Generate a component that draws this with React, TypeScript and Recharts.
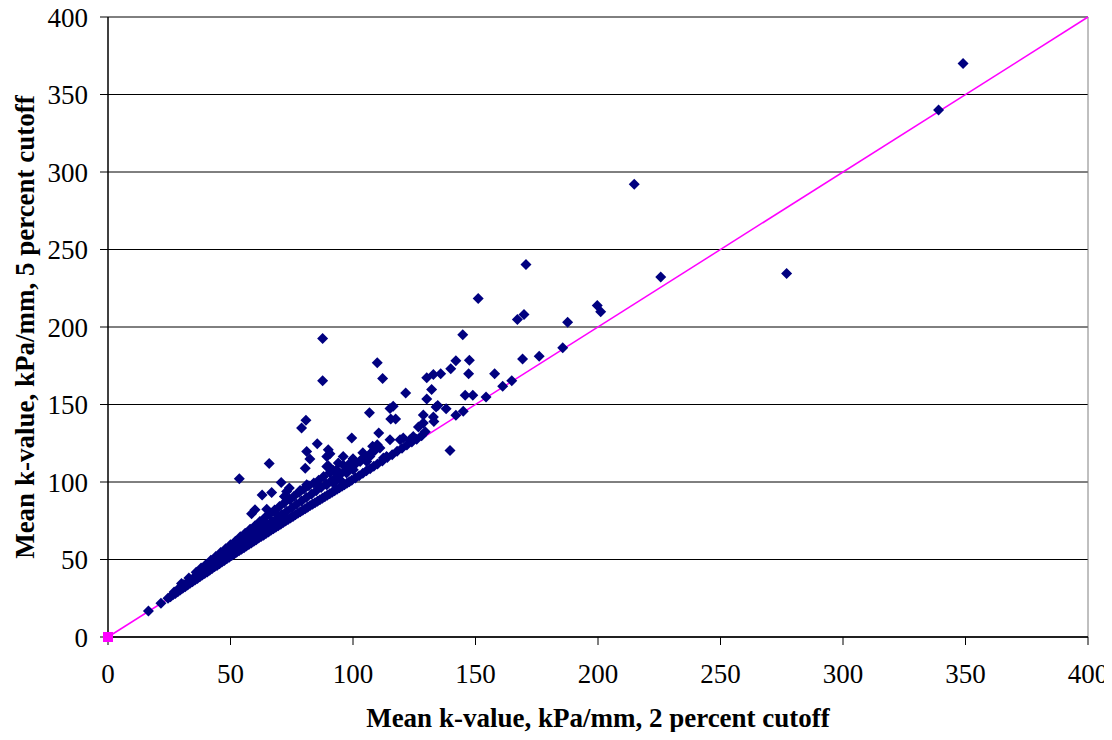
import {
    ScatterChart,
    Scatter,
    XAxis,
    YAxis,
    CartesianGrid,
    ReferenceLine
} from 'recharts';

// axis ticks (kPa/mm)
const xTicks = [0, 50, 100, 150, 200, 250, 300, 350, 400];
const yTicks = [0, 50, 100, 150, 200, 250, 300, 350, 400];

// [2 percent cutoff, 5 percent cutoff] pairs
const nearLine: [number, number][] = [
    [16.5, 16.8], [21.6, 21.8], [24.5, 25], [25.5, 26], [26.5, 27.2], [27.5, 28.1], [28.5, 29.2],
    [29.5, 30.3], [30.5, 31.4], [31.5, 32.4], [32.5, 33.5], [33.5, 34.6], [34.5, 35.6], [35.5, 36.7],
    [36.5, 37.8], [37.5, 38.9], [38.5, 40], [39.5, 41], [40.5, 42], [41.5, 43.1], [42.5, 44.2],
    [43.5, 45.3], [44.5, 46.2], [45.5, 47.3], [46.5, 48.4], [47.5, 49.4], [48.5, 50.5], [49.5, 51.5],
    [50.5, 52.6], [51.5, 53.5], [52.5, 54.6], [53.5, 55.6], [54.5, 56.6], [55.5, 57.6], [56.5, 58.7],
    [57.5, 59.7], [58.5, 60.7], [59.5, 61.7], [60.5, 62.8], [61.5, 63.8], [62.5, 64.8], [63.5, 65.7],
    [64.5, 66.8], [65.5, 67.8], [66.5, 68.8], [67.5, 69.8], [68.5, 70.8], [69.5, 71.8], [70.5, 72.8],
    [71.5, 73.8], [72.5, 74.9], [73.5, 75.8], [74.5, 76.8], [75.5, 77.8], [76.5, 78.8], [77.5, 79.8],
    [78.5, 80.8], [79.5, 81.8], [80.5, 82.8], [81.5, 83.7], [82.5, 84.8], [83.5, 85.7], [84.5, 86.6],
    [85.5, 87.6], [86.5, 88.6], [87.5, 89.5], [88.5, 90.5], [89.5, 91.5], [90.5, 92.4], [91.5, 93.4],
    [92.5, 94.4], [93.5, 95.3], [94.5, 96.3], [95.5, 97.3], [96.5, 98.2], [97.5, 99.2], [98.5, 100.2],
    [99.5, 101.2], [101, 102.6], [102.5, 104.1], [104, 105.6], [105.5, 107.2], [107, 108.6],
    [108.5, 110.2], [110, 111.6], [112, 113.6], [114, 115.8], [116, 117.6], [118, 119.8],
    [120, 121.7], [122, 123.8], [124, 125.8], [126, 127.6], [128, 129.9]
];

const bandMiddle: [number, number][] = [
    [27, 29], [29, 31.5], [31, 33.8], [33, 36], [35, 38.2], [37, 40.5], [39, 42.8], [41, 45],
    [43, 47.3], [45, 49.6], [47, 51.8], [49, 54.2], [51, 56.4], [53, 58.8], [55, 61], [57, 63.2],
    [59, 65.5], [61, 67.8], [63, 70], [65, 72.3], [67, 74.5], [69, 76.6], [71, 79], [73, 81.2],
    [75, 83.3], [77, 85.6], [79, 87.7], [81, 90], [83, 92.1], [85, 94.4], [87, 96.4], [89, 98.7],
    [91, 100.6], [93, 103], [95, 105.2], [97, 107.3], [99, 109.5], [101, 111.6], [103, 113.9],
    [105, 116], [107, 118.2], [109, 120.5]
];

const bandUpper: [number, number][] = [
    [30, 34.5], [33, 38], [36, 41.8], [38, 44.5], [40, 46.8], [42, 49.5], [44, 52], [46, 54.5],
    [48, 57], [50, 59.5], [52, 61.8], [54, 64.6], [56, 67], [58, 69.5], [60, 71.8], [62, 74.5],
    [64, 77], [66, 79.3], [68, 82], [70, 84.2], [72, 86.6], [74, 89], [76, 91], [78, 93.2],
    [80, 95.5], [82, 97.6], [84, 99.4], [86, 101.2], [88, 103.5], [92, 107.5], [96, 111],
    [100, 115], [104, 118.8], [108, 123]
];

const scattered: [number, number][] = [
    [46.4, 53], [48.4, 54.1], [51.1, 58.4], [53.9, 62.7], [56.6, 65.9], [58, 69.1], [61.9, 73.5],
    [63.4, 75.6], [58.6, 79.5], [60, 82.1], [64.8, 82.5], [68.2, 80.3], [74.3, 88.5], [72, 90.7],
    [62.9, 91.6], [66.8, 93.2], [72.9, 93.9], [74, 96.1], [78.4, 94.5], [81.3, 97.6], [70.7, 99.7],
    [53.6, 102.1], [65.8, 112], [80.5, 108.8], [81.1, 119.7], [82.4, 114.8], [85.4, 124.7],
    [79, 134.9], [80.8, 139.8], [87.6, 165.4], [87.6, 192.6], [89.3, 116.5], [89.9, 120.8],
    [90.6, 118.3], [89.3, 110], [96, 116.5], [89.9, 110.5], [90.6, 106.2], [94, 112.2],
    [93.3, 107.9], [92, 99.3], [94.7, 101.5], [89.3, 98.2], [81.1, 98.2], [85.2, 98.9],
    [105.6, 113.3], [102.9, 113.3], [98.8, 112.2], [100.1, 107.9], [97.4, 105.8], [113.7, 116.5],
    [112.4, 115.5], [108.3, 119.7], [106.9, 116.5], [109.9, 124.1], [111, 121.9], [115.1, 127.3],
    [119.2, 127.3], [123.3, 127.3], [124.6, 129.4], [120.5, 128.4], [99.5, 128.4], [110.5, 131.6],
    [106.7, 144.6], [115.1, 147.5], [116.4, 148.8], [115.4, 140.7], [117.4, 140.7], [109.9, 176.9],
    [112.1, 166.7], [121.5, 157.5], [126.7, 135.5], [128.7, 138.1], [129.5, 132.5], [128.7, 143.3],
    [132.8, 142], [133, 139.1], [133.9, 148.4], [134.6, 149.3], [138, 147.3], [142, 143],
    [145, 145.6], [130.1, 153.6], [132.1, 159.6], [130.1, 167.2], [132.8, 169.3], [135.8, 169.8],
    [139.6, 120.4], [139.9, 173], [142, 178.2], [147.5, 178.5], [147.2, 169.8], [144.8, 195],
    [145.8, 155.9], [148.9, 155.9], [154.3, 154.9], [157.8, 169.8], [161.1, 161.7], [164.8, 165.4],
    [151.1, 218.4], [167.1, 204.8], [169.8, 208.1], [169.2, 179.4], [176, 181.1], [170.6, 240.4],
    [185.6, 186.6], [187.6, 203.1], [199.7, 213.9], [201.1, 209.8], [214.8, 292.1], [225.6, 232.2],
    [277, 234.5], [339, 340], [349, 370]
];

// 1:1 equality line and its marker at the origin
const equalityLine: [number, number][] = [[0, 0], [400, 400]];
const originMarker: [number, number][] = [[0, 0]];

const toPoints = (rows: [number, number][]) => rows.map(([x, y]) => ({ x, y }));
const kPoints = toPoints([...nearLine, ...bandMiddle, ...bandUpper, ...scattered]);
const linePoints = toPoints(equalityLine);
const originPoints = toPoints(originMarker);

const FONT = '"Liberation Serif", "Times New Roman", serif';

const Diamond = (props: any) => {
    const { cx, cy } = props;
    const r = 5.5;
    return (
        <polygon
            points={`${cx},${cy - r} ${cx + r},${cy} ${cx},${cy + r} ${cx - r},${cy}`}
            fill="#000080"
        />
    );
};

const Square = (props: any) => {
    const { cx, cy } = props;
    return <rect x={cx - 5} y={cy - 5} width={10} height={10} fill="#FF00FF" />;
};

const NoDot = () => <g />;

const YTitle = (props: any) => {
    const { viewBox } = props;
    const cy = viewBox.y + viewBox.height / 2;
    return (
        <text
            x={34}
            y={cy}
            transform={`rotate(-90, 34, ${cy})`}
            textAnchor="middle"
            fontFamily={FONT}
            fontWeight="bold"
            fontSize={27}
            fill="#000"
        >
            Mean k-value, kPa/mm, 5 percent cutoff
        </text>
    );
};

const XTitle = (props: any) => {
    const { viewBox } = props;
    return (
        <text
            x={viewBox.x + viewBox.width / 2}
            y={727}
            textAnchor="middle"
            fontFamily={FONT}
            fontWeight="bold"
            fontSize={27}
            fill="#000"
        >
            Mean k-value, kPa/mm, 2 percent cutoff
        </text>
    );
};

export default function App() {
    return (
        <div style={{ width: 1112, height: 740, margin: -8, background: '#fff' }}>
            <ScatterChart
                width={1112}
                height={740}
                margin={{ top: 17, right: 24, left: 48, bottom: 0 }}
            >
                <CartesianGrid vertical={false} stroke="#000" strokeWidth={1} />
                <XAxis
                    type="number"
                    dataKey="x"
                    domain={[0, 400]}
                    ticks={xTicks}
                    interval={0}
                    height={103}
                    axisLine={{ stroke: '#000', strokeWidth: 1.5 }}
                    tickLine={{ stroke: '#000' }}
                    tickSize={8}
                    tickMargin={19}
                    tick={{ fill: '#000', fontSize: 27, fontFamily: FONT }}
                    label={<XTitle />}
                />
                <YAxis
                    type="number"
                    dataKey="y"
                    domain={[0, 400]}
                    ticks={yTicks}
                    interval={0}
                    width={60}
                    axisLine={{ stroke: '#000', strokeWidth: 1.5 }}
                    tickLine={{ stroke: '#000' }}
                    tickSize={8}
                    tickMargin={12}
                    tick={{ fill: '#000', fontSize: 27, fontFamily: FONT }}
                    label={<YTitle />}
                />
                <ReferenceLine x={400} stroke="#808080" strokeWidth={1} />
                <Scatter
                    data={linePoints}
                    line={{ stroke: '#FF00FF', strokeWidth: 1.5 }}
                    shape={<NoDot />}
                    isAnimationActive={false}
                />
                <Scatter
                    data={kPoints}
                    shape={<Diamond />}
                    isAnimationActive={false}
                />
                <Scatter
                    data={originPoints}
                    shape={<Square />}
                    isAnimationActive={false}
                />
            </ScatterChart>
        </div>
    );
}
